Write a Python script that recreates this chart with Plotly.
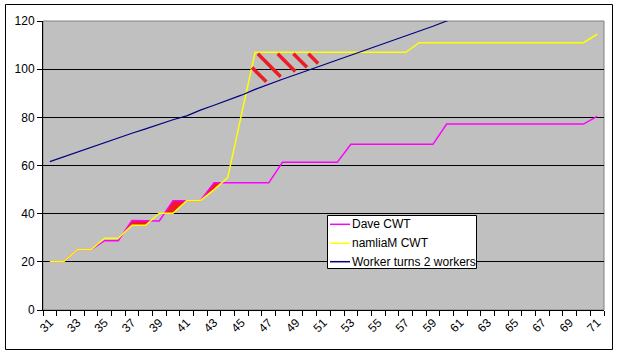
import numpy as np
import plotly.graph_objects as go

# ---- data ----
categories = list(range(31, 72))
tick_labels = [str(c) for c in range(31, 72, 2)]
y_ticks = [0, 20, 40, 60, 80, 100, 120]
y_grid = [20, 40, 60, 80, 100]

series_names = ["Dave CWT", "namliaM CWT", "Worker turns 2 workers"]
series_colors = ["#FF00FF", "#FFFF00", "#000080"]

dave_cwt = [20, 20, 25, 25, 28.8, 28.8, 37.2, 37.2, 37, 45.4, 45.4, 45.4,
            52.8, 52.8, 52.8, 52.8, 52.8,
            61.3, 61.3, 61.3, 61.3, 61.3,
            68.8, 68.8, 68.8, 68.8, 68.8, 68.8, 68.8,
            77.2, 77.2, 77.2, 77.2, 77.2, 77.2, 77.2, 77.2, 77.2, 77.2, 77.2,
            80.4]

namliam_cwt = [20, 20, 25, 25, 29.8, 29.8, 35.2, 35.2, 40.2, 40.2, 45.4, 45.4,
               50, 55, 81, 107,
               107, 107, 107, 107, 107, 107, 107, 107, 107, 107, 107,
               111, 111, 111, 111, 111, 111, 111, 111, 111, 111, 111, 111, 111,
               114.5]

worker_turns = [61.6, 63.6, 65.6, 67.6, 69.6, 71.6, 73.4, 75.2, 77.2, 79.0,
                80.6, 83.0, 85.0, 87.0, 89.2, 91.6, 93.8, 95.8, 97.8, 99.8,
                101.8, 103.8, 105.8, 107.8, 109.6, 111.6, 113.6, 115.6, 117.8, 120.0,
                122, 124, 126, 128, 130, 132, 134, 136, 138, 140, 142]

# hand-drawn hatch strokes: start positions (category units) along the namliaM line
hatch_starts = [45.78, 46.2, 47.65, 48.8, 49.9]

RED = "#ED1C24"
W, H = 618, 354
ML, MR, MT, MB = 43, 14, 21, 44
PW, PH = W - ML - MR, H - MT - MB


def px(xp):
    return (xp - ML) / PW


def py(yp):
    return (H - MB - yp) / PH


def diff_regions(x, top, bot):
    pts = []
    for i in range(len(x) - 1):
        pts.append((x[i], top[i], bot[i]))
        d0 = top[i] - bot[i]
        d1 = top[i + 1] - bot[i + 1]
        if d0 * d1 < 0:
            f = d0 / (d0 - d1)
            xc = x[i] + f * (x[i + 1] - x[i])
            yc = top[i] + f * (top[i + 1] - top[i])
            pts.append((xc, yc, yc))
    pts.append((x[-1], top[-1], bot[-1]))
    runs, cur = [], None
    for j in range(len(pts) - 1):
        a, b = pts[j], pts[j + 1]
        if (a[1] - a[2]) > 1e-9 or (b[1] - b[2]) > 1e-9:
            if cur is None:
                cur = [a]
            cur.append(b)
        else:
            if cur:
                runs.append(cur)
            cur = None
    if cur:
        runs.append(cur)
    xs, ys = [], []
    for r in runs:
        xs += [p[0] for p in r] + [p[0] for p in reversed(r)] + [None]
        ys += [p[1] for p in r] + [p[2] for p in reversed(r)] + [None]
    return xs, ys


fig = go.Figure()

fx, fy = diff_regions(categories, dave_cwt, namliam_cwt)
fig.add_trace(go.Scatter(x=fx, y=fy, fill="toself", fillcolor=RED, mode="lines",
                         line=dict(width=0, color=RED), showlegend=False, hoverinfo="skip"))

for name, color, vals, w in zip(series_names, series_colors,
                                [dave_cwt, namliam_cwt, worker_turns], [1.5, 1.5, 1.2]):
    fig.add_trace(go.Scatter(x=categories, y=vals, mode="lines", name=name,
                             line=dict(color=color, width=w), showlegend=False))

# hatch strokes between namliaM plateau and worker line
slope = -5.7
hx, hy = [], []
for s in hatch_starts:
    y0 = float(np.interp(s, categories, namliam_cwt)) - 0.6
    xe = s
    while y0 + slope * (xe - s) > float(np.interp(xe, categories, worker_turns)) + 1.4:
        xe += 0.01
    hx += [s, xe, None]
    hy += [y0, y0 + slope * (xe - s), None]
fig.add_trace(go.Scatter(x=hx, y=hy, mode="lines", line=dict(color=RED, width=3.5),
                         showlegend=False, hoverinfo="skip"))

font = dict(family="Liberation Sans, Arial, sans-serif", size=12, color="black")

shapes = [
    # outer chart border
    dict(type="rect", xref="paper", yref="paper",
         x0=px(5.5), x1=px(612.5), y0=py(349.5), y1=py(4.5),
         line=dict(color="black", width=1), fillcolor="rgba(0,0,0,0)", layer="below"),
    # plot-area border
    dict(type="rect", xref="paper", yref="paper", x0=0, x1=1, y0=0, y1=1,
         line=dict(color="#808080", width=1), fillcolor="rgba(0,0,0,0)", layer="below"),
    # legend box
    dict(type="rect", xref="paper", yref="paper",
         x0=px(327.5), x1=px(476.5), y0=py(268.5), y1=py(215.5),
         line=dict(color="black", width=1), fillcolor="white", layer="above"),
]
annotations = []
row_y = [224.3, 243.3, 261.7]
for name, color, ry in zip(series_names, series_colors, row_y):
    shapes.append(dict(type="line", xref="paper", yref="paper",
                       x0=px(330), x1=px(350), y0=py(ry), y1=py(ry),
                       line=dict(color=color, width=1.5), layer="above"))
    annotations.append(dict(xref="paper", yref="paper", x=px(350), y=py(ry),
                            xanchor="left", yanchor="middle", text=name,
                            showarrow=False, font=font))

fig.update_layout(
    width=W, height=H,
    margin=dict(l=ML, r=MR, t=MT, b=MB),
    paper_bgcolor="white",
    plot_bgcolor="#C0C0C0",
    font=font,
    showlegend=False,
    xaxis=dict(range=[30.5, 71.5], tickmode="array", tickvals=list(range(31, 72, 2)),
               ticktext=tick_labels, tickangle=-45, ticks="", showgrid=False,
               showline=True, linecolor="black", linewidth=1, zeroline=False,
               minor=dict(tick0=30.5, dtick=1, ticks="outside", ticklen=5,
                          tickcolor="black", tickwidth=1, showgrid=False),
               tickfont=font),
    yaxis=dict(range=[0, 120], tickmode="array", tickvals=y_ticks,
               ticks="outside", ticklen=5, tickcolor="black", showgrid=False,
               showline=True, linecolor="black", linewidth=1, zeroline=False,
               minor=dict(tickmode="array", tickvals=y_grid, ticks="", showgrid=True,
                          gridcolor="black", gridwidth=1),
               tickfont=font),
    shapes=shapes,
    annotations=annotations,
)

fig.write_html("out.html")
